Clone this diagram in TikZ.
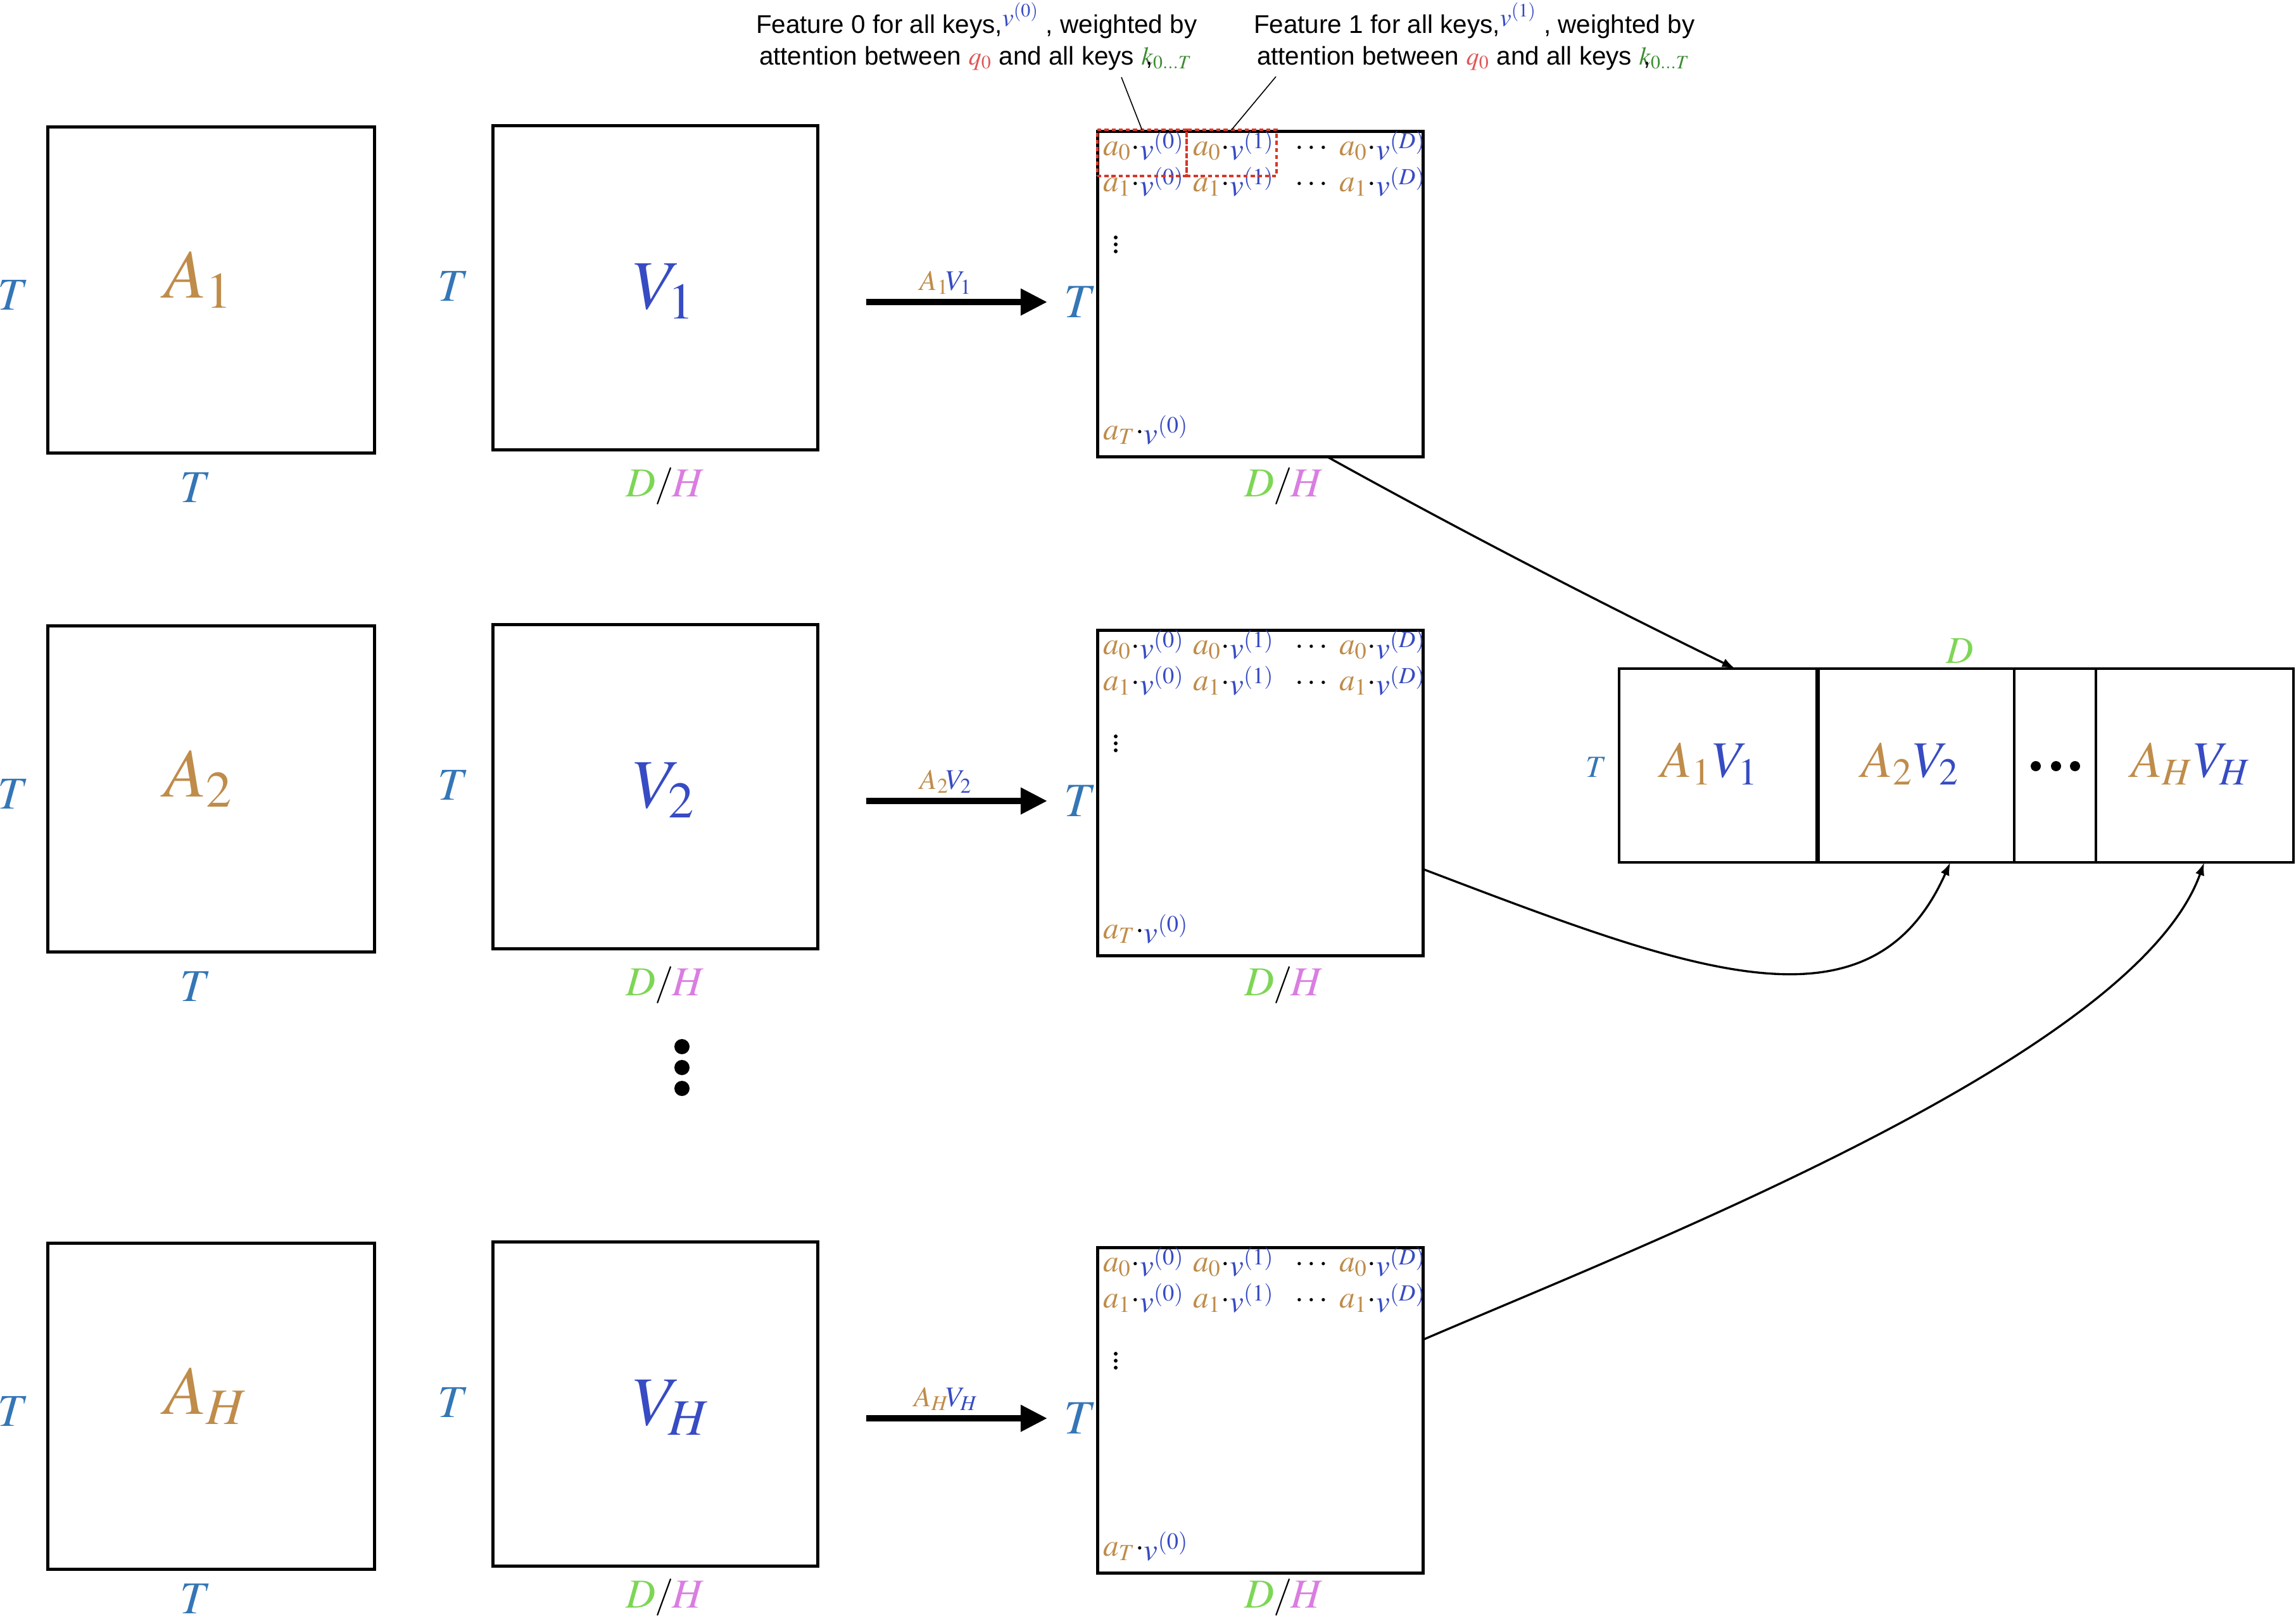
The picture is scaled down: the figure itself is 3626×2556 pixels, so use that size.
\documentclass[tikz,border=0pt]{standalone}
\usepackage{mathptmx}
\usepackage[no-math]{fontspec}
\newfontfamily\annotfont{Liberation Sans}
\usetikzlibrary{arrows.meta,calc}
\definecolor{acol}{RGB}{191,140,74}
\definecolor{vcol}{RGB}{55,75,195}
\definecolor{tcol}{RGB}{52,118,182}
\definecolor{dcol}{RGB}{125,214,85}
\definecolor{hcol}{RGB}{218,125,225}
\definecolor{qcol}{RGB}{225,85,85}
\definecolor{kcol}{RGB}{60,140,50}
\definecolor{rcol}{RGB}{215,55,40}
\newcommand\mentry[2]{\textcolor{acol}{$a_{#1}$}$\mathord{\cdot}$\textcolor{vcol}{\raisebox{-2pt}{$v^{(#2)}$}}}
\newcommand\sz[1]{\fontsize{#1}{#1}\selectfont}
\newcommand\slashDH{\textcolor{dcol}{$D$}\kern-0.5pt\raisebox{0.5pt}{\scalebox{0.9}{$/$}}\kern-0.5pt\textcolor{hcol}{$H$}}
\begin{document}
\begin{tikzpicture}[x=0.01cm,y=-0.01cm,
  mat/.style={draw,line width=1.42pt,inner sep=0pt,outer sep=0pt,rectangle},
  cell/.style={draw,line width=1pt,inner sep=0pt,outer sep=0pt,rectangle,minimum height=3.06cm},
  reddot/.style={draw=rcol,line width=1.3pt,dash pattern=on 1.8pt off 1.4pt,inner sep=0pt,outer sep=0pt,rectangle},
  txt/.style={inner sep=0pt,outer sep=0pt,anchor=base},
  txtw/.style={inner sep=0pt,outer sep=0pt,anchor=base west},
  bigarrow/.style={line width=2.85pt,-{Triangle[length=12pt,width=11.4pt]}},
  curvearrow/.style={line width=0.95pt,-{Latex[length=5.8pt,width=4.2pt]}},
  leader/.style={line width=0.45pt},
  entry/.style={inner sep=0pt,outer sep=0pt,anchor=base west,font=\sz{14}}
]
\useasboundingbox[fill=white] (0,0) rectangle (3626,2556);

\foreach \r/\dy/\by in {1/0/0,2/788/0,H/1763/-8}{
  % A matrix
  \node[mat,minimum width=5.15cm,minimum height=5.14cm] (A\r) at (333.5,458+\dy) {};
  \node[txtw,font=\sz{31}] at (259,470+\dy) {\textcolor{acol}{$A_{\r}$}};
  \node[txt,font=\sz{20.5}] at (21,489+\dy) {\textcolor{tcol}{$T$}};
  \node[txt,font=\sz{20.5}] at (309,793+\dy+\by) {\textcolor{tcol}{$T$}};
  % V matrix
  \node[mat,minimum width=5.12cm,minimum height=5.11cm] (V\r) at (1035,454.5+\dy) {};
  \node[txtw,font=\sz{31}] at (1000,487+\dy) {\textcolor{vcol}{$V_{\r}$}};
  \node[txt,font=\sz{20.5}] at (716,475+\dy) {\textcolor{tcol}{$T$}};
  \node[txt,font=\sz{18.5}] at (1051,784+\dy+\by) {\slashDH};
  % arrow
  \coordinate (s\r) at (1368,477+\dy);
  \coordinate (e\r) at (1654,477+\dy);
  \draw[bigarrow] (s\r) -- (e\r);
  \node[txt,font=\sz{12.8}] at (1494,458+\dy) {\textcolor{acol}{$A_{\r}$}\kern-1.5pt\textcolor{vcol}{$V_{\r}$}};
  % output matrix
  \node[mat,minimum width=5.13cm,minimum height=5.13cm] (out\r) at (1990.5,464.5+\dy) {};
  \node[txt,font=\sz{21.5}] at (1706,501+\dy) {\textcolor{tcol}{$T$}};
  \node[txt,font=\sz{18.5}] at (2028,784+\dy+\by) {\slashDH};
  \node[entry] at (1742,245+\dy) {\mentry{0}{0}};
  \node[entry] at (1884,245+\dy) {\mentry{0}{1}};
  \node[txt,font=\sz{14}] at (2071,245+\dy) {$\cdots$};
  \node[entry] at (2115,245+\dy) {\mentry{0}{D}};
  \node[entry] at (1742,302+\dy) {\mentry{1}{0}};
  \node[entry] at (1884,302+\dy) {\mentry{1}{1}};
  \node[txt,font=\sz{14}] at (2071,302+\dy) {$\cdots$};
  \node[entry] at (2115,302+\dy) {\mentry{1}{D}};
  \node[entry] at (1742,694+\dy) {\mentry{T}{0}};
  \foreach \yy in {375,386,397}{\fill (1762,\yy+\dy) circle (0.03cm);}
}

% vertical dots between rows
\foreach \yy in {1653,1686,1719}{\fill (1077,\yy) circle (0.12cm);}

% concatenated matrix
\node[cell,minimum width=3.13cm] (c1) at (2713.5,1209) {};
\node[cell,minimum width=3.11cm] (c2) at (3025.5,1209) {};
\node[cell,minimum width=1.29cm] (cd) at (3245.5,1209) {};
\node[cell,minimum width=3.12cm] (cH) at (3466,1209) {};
\draw[line width=1.28pt] (c1.north west) rectangle (cH.south east);
\draw[line width=2pt] (c1.north east) -- (c1.south east);
\node[txt,font=\sz{23}] at (2700,1227) {\textcolor{acol}{$A_1$}\textcolor{vcol}{$V_1$}};
\node[txt,font=\sz{23}] at (3017,1227) {\textcolor{acol}{$A_2$}\textcolor{vcol}{$V_2$}};
\node[txt,font=\sz{23}] at (3460,1227) {\textcolor{acol}{$A_H$}\textcolor{vcol}{$V_H$}};
\foreach \xx in {3215,3247,3277}{\fill (\xx,1210) circle (0.08cm);}
\node[txt,font=\sz{13.8}] at (2521,1227) {\textcolor{tcol}{$T$}};
\node[txt,font=\sz{17}] at (3095,1047) {\textcolor{dcol}{$D$}};

% curves to concatenation
\draw[curvearrow] ([xshift=1.05cm]out1.south) .. controls (2310,840) and (2525,951) .. ([xshift=0.265cm]c1.north);
\draw[curvearrow] ([yshift=-1.2cm]out2.east) .. controls (2669,1533) and (2954,1645) .. ([xshift=0.545cm]c2.south);
\draw[curvearrow] ([yshift=1.115cm]outH.east) .. controls (2599,1964.5) and (3373,1665) .. ([xshift=0.15cm]cH.south);

% red dotted highlight boxes
\node[reddot,minimum width=1.41cm,minimum height=0.73cm] (r0) at (1803.5,241.5) {};
\node[reddot,minimum width=1.42cm,minimum height=0.73cm] (r1) at (1945,241.5) {};

% annotations
\node[txtw,font=\annotfont\sz{11.5}] (n0a) at (1194,52) {Feature 0 for all keys,\textcolor{vcol}{\raisebox{3pt}{$v^{(0)}$}} , weighted by};
\node[txtw,font=\annotfont\sz{11.5}] (n0b) at (1199,102) {attention between \textcolor{qcol}{$q_0$} and all keys \textcolor{kcol}{$k$}\llap{,}\textcolor{kcol}{${}_{0...T}$}};
\node[txtw,font=\annotfont\sz{11.5}] (n1a) at (1980,52) {Feature 1 for all keys,\textcolor{vcol}{\raisebox{3pt}{$v^{(1)}$}} , weighted by};
\node[txtw,font=\annotfont\sz{11.5}] (n1b) at (1985,102) {attention between \textcolor{qcol}{$q_0$} and all keys \textcolor{kcol}{$k$}\llap{,}\textcolor{kcol}{${}_{0...T}$}};
\coordinate (l0) at (1771,122);
\coordinate (l1) at (2015,121);
\draw[leader] (l0) -- (r0.north);
\draw[leader] (l1) -- (r1.north);
\end{tikzpicture}
\end{document}
